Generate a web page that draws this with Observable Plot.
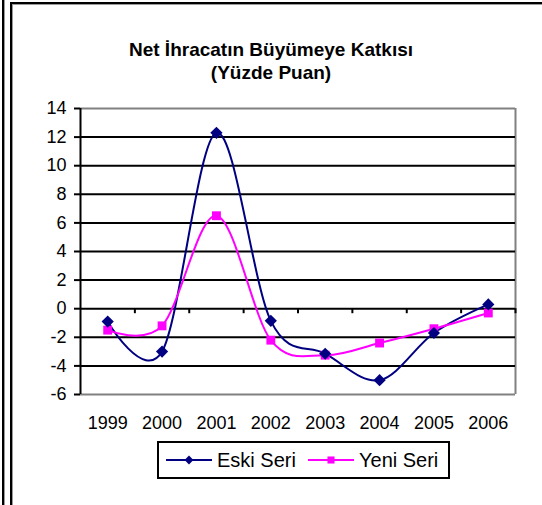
<!DOCTYPE html>
<html>
<head>
<meta charset="utf-8">
<script src="https://cdn.jsdelivr.net/npm/d3@7"></script>
<script src="https://cdn.jsdelivr.net/npm/@observablehq/plot@0.6"></script>
<style>
  html, body { margin: 0; padding: 0; background: #fff; }
  #wrap { position: relative; width: 542px; height: 505px; overflow: hidden; font-family: "Liberation Sans", Arial, sans-serif; background: #fff; }
  #lineL { position: absolute; left: 2px; top: 0; width: 2px; height: 505px; background: #000; box-shadow: 1px 0 0 #999; }
  #frame { position: absolute; left: 10px; top: 2px; width: 560px; height: 560px; border-top: 2px solid #000; border-left: 2px solid #000; box-shadow: inset 1px 1px 0 #999; }
  #title { position: absolute; left: 0; width: 542px; top: 38px; text-align: center; font-weight: bold; font-size: 19px; line-height: 23px; color: #000; }
  #chart { position: absolute; left: 0; top: 90px; }
  #legend { position: absolute; left: 157px; top: 441px; width: 289px; height: 34px; border: 2px solid #000; font-size: 20px; }
  .item { position: absolute; top: 0; height: 34px; display: flex; align-items: center; }
  .item svg { margin-right: 4px; }
</style>
</head>
<body>
<div id="wrap">
  <div id="lineL"></div>
  <div id="frame"></div>
  <div id="title">Net İhracatın Büyümeye Katkısı<br>(Yüzde Puan)</div>
  <div id="chart"></div>
  <div id="legend"></div>
</div>
<script>
const years = [1999, 2000, 2001, 2002, 2003, 2004, 2005, 2006];
const eskiSeri = [-0.9, -3.0, 12.3, -0.85, -3.15, -5.0, -1.7, 0.3];
const yeniSeri = [-1.5, -1.2, 6.5, -2.2, -3.25, -2.4, -1.4, -0.3];
const yTicks = [-6, -4, -2, 0, 2, 4, 6, 8, 10, 12, 14];
const seriesNames = ["Eski Seri", "Yeni Seri"];
const seriesColors = ["#000080", "#FF00FF"];

const data = [];
years.forEach((yr, i) => {
  data.push({year: yr, value: eskiSeri[i], series: seriesNames[0]});
  data.push({year: yr, value: yeniSeri[i], series: seriesNames[1]});
});
const boundaries = years.slice(1).map(y => y - 0.5).concat([years[years.length - 1] + 0.5]);
const xMin = years[0] - 0.5, xMax = years[years.length - 1] + 0.5;
const innerGrid = yTicks.filter(v => v > yTicks[0] && v < yTicks[yTicks.length - 1]);

const plot = Plot.plot({
  width: 542,
  height: 360,
  marginTop: 18,
  marginBottom: 56,
  marginLeft: 80,
  marginRight: 27,
  style: {fontFamily: "Liberation Sans, Arial, sans-serif", fontSize: "18px", color: "#000", background: "transparent"},
  x: {type: "linear", domain: [xMin, xMax]},
  y: {domain: [yTicks[0], yTicks[yTicks.length - 1]]},
  marks: [
    Plot.ruleY([yTicks[0], yTicks[yTicks.length - 1]], {x1: xMin, x2: xMax, stroke: "#808080", strokeWidth: 2}),
    Plot.ruleX([xMax], {y1: yTicks[0], y2: yTicks[yTicks.length - 1], stroke: "#808080", strokeWidth: 2}),
    Plot.ruleY(innerGrid, {x1: xMin, x2: xMax, stroke: "#000", strokeWidth: 2}),
    Plot.ruleX(boundaries, {y1: 0, y2: -0.35, stroke: "#000", strokeWidth: 2}),
    Plot.ruleX([xMin], {y1: yTicks[0], y2: yTicks[yTicks.length - 1], stroke: "#000", strokeWidth: 2}),
    Plot.axisY({ticks: yTicks, tickSize: 6, tickPadding: 8, strokeWidth: 2, stroke: "#000", fill: "#000", fontSize: 18, label: null, tickFormat: d => String(d)}),
    Plot.axisX({ticks: years, tickSize: 0, tickPadding: 22, fill: "#000", fontSize: 18, label: null, tickFormat: d => String(d)}),
    Plot.line(data, {x: "year", y: "value", z: "series", stroke: d => d.series === seriesNames[0] ? seriesColors[0] : seriesColors[1], strokeWidth: 2, curve: "cardinal"}),
    Plot.dot(data.filter(d => d.series === seriesNames[1]), {x: "year", y: "value", symbol: "square", r: 5, fill: seriesColors[1], stroke: "none"}),
    Plot.dot(data.filter(d => d.series === seriesNames[0]), {x: "year", y: "value", symbol: "diamond2", r: 5.5, fill: seriesColors[0], stroke: "none"})
  ]
});
document.getElementById("chart").appendChild(plot);

// legend
const legend = document.getElementById("legend");
const lefts = [6, 148];
seriesNames.forEach((name, i) => {
  const item = document.createElement("div");
  item.className = "item";
  item.style.left = lefts[i] + "px";
  const svg = d3.create("svg").attr("width", 48).attr("height", 14);
  svg.append("line").attr("x1", 1).attr("x2", 47).attr("y1", 7).attr("y2", 7).attr("stroke", seriesColors[i]).attr("stroke-width", 2);
  const sym = d3.symbol().type(i === 0 ? d3.symbolDiamond2 : d3.symbolSquare).size(i === 0 ? 50 : 50);
  svg.append("path").attr("d", sym()).attr("transform", "translate(24,7)").attr("fill", seriesColors[i]);
  item.appendChild(svg.node());
  const span = document.createElement("span");
  span.textContent = name;
  item.appendChild(span);
  legend.appendChild(item);
});
</script>
</body>
</html>
